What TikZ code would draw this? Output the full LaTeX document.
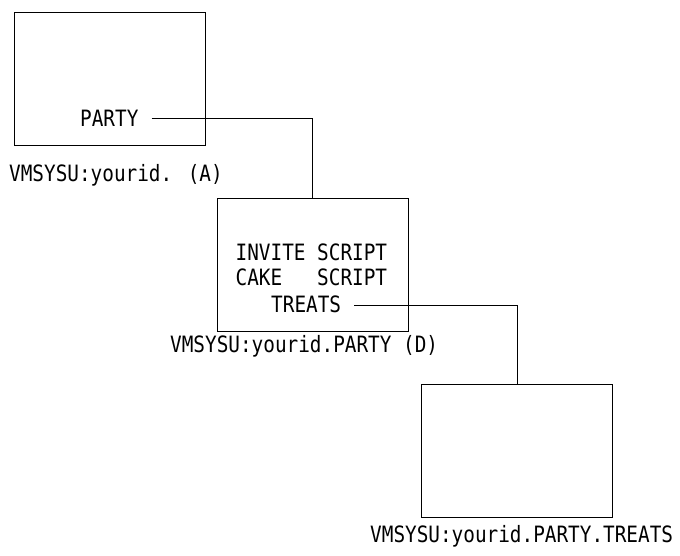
\documentclass[tikz,border=0pt]{standalone}
\usepackage{fontspec}
\newfontfamily\monofam[FakeStretch=0.86]{DejaVu Sans Mono}
\begin{document}
\begin{tikzpicture}[x=1pt,y=-1pt,
  box/.style={draw=black, line width=1pt, minimum width=191pt, minimum height=133pt, inner sep=0pt},
  txt/.style={anchor=base west, inner sep=0pt, font=\monofam\fontsize{22.5}{26}\selectfont},
  conn/.style={draw=black, line width=1pt}]
\useasboundingbox (0,0) rectangle (680,555);
% boxes
\node[box] (boxA) at (109.5,78.5) {};
\node[box] (boxD) at (312.5,265) {};
\node[box] (boxT) at (517,450.5) {};
% texts
\node[txt] (party) at (80,126) {PARTY};
\node[txt] (labA) at (9,181) {VMSYSU:yourid. (A)};
\node[txt] (inv) at (235.5,260) {INVITE SCRIPT};
\node[txt] (cake) at (235.5,285) {CAKE\ \ \ SCRIPT};
\node[txt] (treats) at (271,312) {TREATS};
\node[txt] (labD) at (170,352) {VMSYSU:yourid.PARTY (D)};
\node[txt] (labT) at (370,542) {VMSYSU:yourid.PARTY.TREATS};
% connectors
\coordinate (pA) at ([xshift=13pt,yshift=8pt]party.base east);
\coordinate (pD) at ([xshift=13pt,yshift=7pt]treats.base east);
\draw[conn] (pA) -| (boxD.north);
\draw[conn] (pD) -| (boxT.north);
\end{tikzpicture}
\end{document}
